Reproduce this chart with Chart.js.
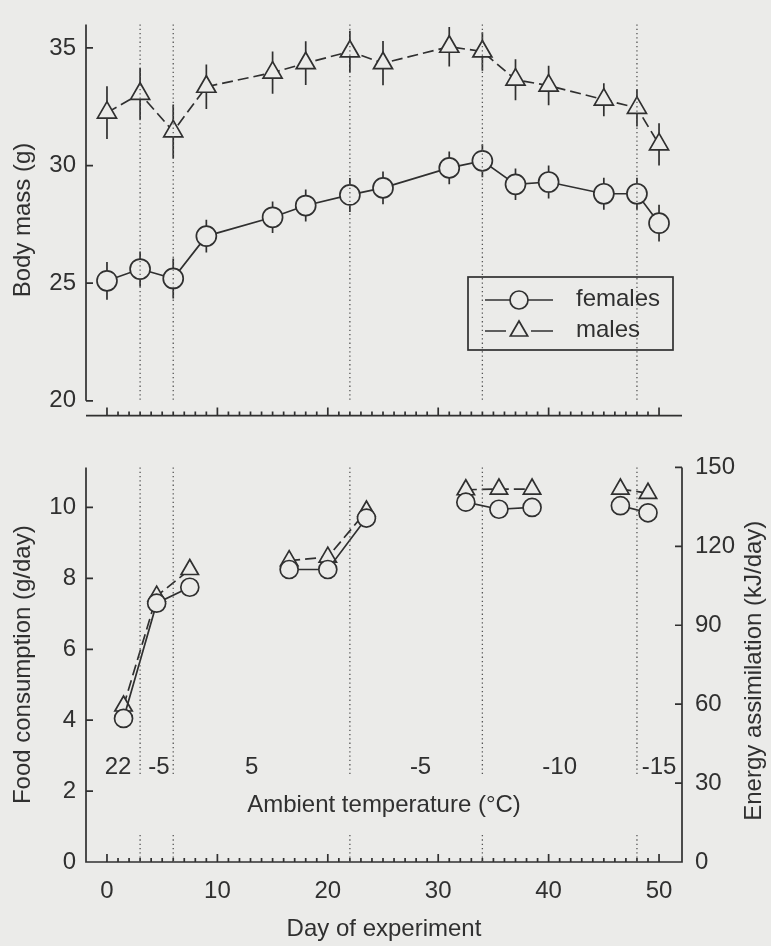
<!DOCTYPE html>
<html>
<head>
<meta charset="utf-8">
<title>Body mass and food consumption</title>
<script src="https://cdn.jsdelivr.net/npm/chart.js@4.4.1/dist/chart.umd.min.js"></script>
<style>
  body { margin: 0; background: #ebebe9; }
  canvas { position: absolute; left: 0; }
  #massChart { top: 0; }
  #foodChart { top: 440px; }
</style>
</head>
<body>
<canvas id="massChart" width="771" height="440"></canvas>
<canvas id="foodChart" width="771" height="506"></canvas>
<script>
// body mass
const massDays = [0, 3, 6, 9, 15, 18, 22, 25, 31, 34, 37, 40, 45, 48, 50];
const femaleMass = [25.1, 25.6, 25.2, 27.0, 27.8, 28.3, 28.75, 29.05, 29.9, 30.2, 29.2, 29.3, 28.8, 28.8, 27.55];
const femaleMassErr = [0.8, 0.75, 0.85, 0.7, 0.67, 0.68, 0.72, 0.7, 0.7, 0.7, 0.67, 0.7, 0.68, 0.68, 0.78];
const maleMass = [32.25, 33.05, 31.45, 33.35, 33.95, 34.35, 34.85, 34.35, 35.05, 34.85, 33.65, 33.4, 32.8, 32.45, 30.9];
const maleMassErr = [1.12, 1.1, 1.14, 0.95, 0.9, 0.93, 0.88, 0.94, 0.84, 0.82, 0.87, 0.84, 0.7, 0.79, 0.9];

// food consumption, lower panel (points only joined inside a group)
const foodDays = [1.5, 4.5, 7.5, 16.5, 20, 23.5, 32.5, 35.5, 38.5, 46.5, 49];
const foodGroup = [1, 1, 1, 2, 2, 2, 3, 3, 3, 4, 4];
const femaleFood = [4.05, 7.3, 7.75, 8.25, 8.25, 9.7, 10.15, 9.95, 10.0, 10.05, 9.85];
const maleFood = [4.4, 7.5, 8.25, 8.5, 8.6, 9.9, 10.5, 10.52, 10.52, 10.52, 10.4];

// temperature periods
const periodBounds = [3, 6, 22, 34, 48];
const tempLabels = ['22', '-5', '5', '-5', '-10', '-15'];
const tempLabelDays = [1.0, 4.7, 13.1, 28.4, 41.0, 50.0];

// axis ticks
const massTicks = [20, 25, 30, 35];
const foodTicks = [0, 2, 4, 6, 8, 10];
const energyTicks = [0, 30, 60, 90, 120, 150];
const dayTicks = [0, 10, 20, 30, 40, 50];

const ink = '#303030';
const paper = '#ebebe9';
Chart.defaults.font.family = '"Liberation Sans", Arial, sans-serif';
Chart.defaults.font.size = 24;
Chart.defaults.color = ink;

const dayMin = -1.9, dayMax = 52.08;

function series(days, vals) {
  return days.map((d, i) => ({ x: d, y: vals[i] }));
}

function setTicks(values) {
  return scale => { scale.ticks = values.map(v => ({ value: v })); };
}

function drawDayTicks(ctx, x, base) {
  for (let d = 0; d <= 50; d++) {
    const px = x.getPixelForValue(d);
    ctx.moveTo(px, base);
    ctx.lineTo(px, base - (d % 10 === 0 ? 8 : 4));
  }
}

function drawYTicks(ctx, scale, values, x0, dir) {
  values.forEach(v => {
    const py = scale.getPixelForValue(v);
    ctx.moveTo(x0, py);
    ctx.lineTo(x0 + dir * 7, py);
  });
}

function drawErrors(chart) {
  const { ctx, scales: { x, y } } = chart;
  chart.data.datasets.forEach(ds => {
    if (!ds.errors) return;
    ds.data.forEach((p, i) => {
      const px = x.getPixelForValue(p.x);
      ctx.moveTo(px, y.getPixelForValue(p.y - ds.errors[i]));
      ctx.lineTo(px, y.getPixelForValue(p.y + ds.errors[i]));
    });
  });
}

function drawPeriods(chart, spans) {
  const { ctx, scales: { x, y } } = chart;
  ctx.save();
  ctx.strokeStyle = '#555555';
  ctx.lineWidth = 1.3;
  ctx.setLineDash([1.3, 3]);
  ctx.beginPath();
  periodBounds.forEach(d => {
    const px = x.getPixelForValue(d);
    spans.forEach(([a, b]) => {
      ctx.moveTo(px, y.getPixelForValue(a));
      ctx.lineTo(px, y.getPixelForValue(b));
    });
  });
  ctx.stroke();
  ctx.restore();
}

function marker(ctx, style, r, cx, cy) {
  ctx.beginPath();
  if (style === 'triangle') {
    for (let k = 0; k < 3; k++) {
      const a = k * 2 * Math.PI / 3;
      const px = cx + Math.sin(a) * r, py = cy - Math.cos(a) * r;
      k ? ctx.lineTo(px, py) : ctx.moveTo(px, py);
    }
    ctx.closePath();
  } else {
    ctx.arc(cx, cy, r, 0, 2 * Math.PI);
  }
  ctx.fill();
  ctx.stroke();
}

function drawLegend(chart) {
  const { ctx } = chart;
  const left = 468, top = 277, w = 205, h = 73;
  ctx.save();
  ctx.strokeStyle = ink;
  ctx.fillStyle = paper;
  ctx.lineWidth = 1.7;
  ctx.strokeRect(left, top, w, h);
  chart.data.datasets.forEach((ds, i) => {
    const cy = top + 23 + i * 31;
    ctx.beginPath();
    if (ds.borderDash) {
      ctx.moveTo(left + 17, cy); ctx.lineTo(left + 38, cy);
      ctx.moveTo(left + 63, cy); ctx.lineTo(left + 85, cy);
    } else {
      ctx.moveTo(left + 17, cy); ctx.lineTo(left + 85, cy);
    }
    ctx.stroke();
    marker(ctx, ds.pointStyle, ds.pointStyle === 'triangle' ? 10 : 9, left + 51, cy);
    ctx.fillStyle = ink;
    ctx.textAlign = 'left';
    ctx.textBaseline = 'middle';
    ctx.fillText(ds.label, left + 108, cy - 1);
    ctx.fillStyle = paper;
  });
  ctx.restore();
}

const massFrame = {
  id: 'massFrame',
  beforeDatasetsDraw(chart) {
    const { ctx, chartArea: a, scales: { x, y } } = chart;
    ctx.save();
    ctx.strokeStyle = ink;
    ctx.lineWidth = 1.7;
    ctx.beginPath();
    ctx.moveTo(a.left, a.top);
    ctx.lineTo(a.left, y.getPixelForValue(20));
    drawYTicks(ctx, y, massTicks, a.left, 1);
    ctx.moveTo(a.left, a.bottom);
    ctx.lineTo(a.right, a.bottom);
    drawDayTicks(ctx, x, a.bottom);
    drawErrors(chart);
    ctx.stroke();
    ctx.restore();
  },
  afterDatasetsDraw(chart) {
    drawPeriods(chart, [[36, 20]]);
    drawLegend(chart);
  }
};

const foodFrame = {
  id: 'foodFrame',
  beforeDatasetsDraw(chart) {
    const { ctx, chartArea: a, scales: { x, y, energy } } = chart;
    ctx.save();
    ctx.strokeStyle = ink;
    ctx.lineWidth = 1.7;
    ctx.beginPath();
    ctx.moveTo(a.left, a.top);
    ctx.lineTo(a.left, a.bottom);
    ctx.lineTo(a.right, a.bottom);
    ctx.lineTo(a.right, a.top);
    drawYTicks(ctx, y, foodTicks, a.left, 1);
    drawYTicks(ctx, energy, energyTicks, a.right, -1);
    drawDayTicks(ctx, x, a.bottom);
    ctx.stroke();
    ctx.restore();
  },
  afterDatasetsDraw(chart) {
    const { ctx, chartArea: a, scales: { x, y } } = chart;
    drawPeriods(chart, [[11.13, 2.45], [0.76, 0]]);
    ctx.save();
    ctx.fillStyle = ink;
    ctx.textAlign = 'center';
    ctx.textBaseline = 'middle';
    tempLabels.forEach((t, i) => {
      ctx.fillText(t, x.getPixelForValue(tempLabelDays[i]), y.getPixelForValue(2.68));
    });
    ctx.fillText('Ambient temperature (°C)', (a.left + a.right) / 2, y.getPixelForValue(1.6));
    ctx.translate(754, (a.top + a.bottom) / 2 + 6);
    ctx.rotate(-Math.PI / 2);
    ctx.fillText('Energy assimilation (kJ/day)', 0, 0);
    ctx.restore();
  }
};

const lineStyle = {
  borderColor: ink,
  borderWidth: 1.7,
  pointBackgroundColor: paper,
  pointBorderColor: ink,
  pointBorderWidth: 1.7,
  fill: false,
  tension: 0
};

const noGrid = { display: false, drawTicks: false };

new Chart(document.getElementById('massChart'), {
  type: 'line',
  data: {
    datasets: [
      Object.assign({}, lineStyle, {
        label: 'females',
        data: series(massDays, femaleMass),
        errors: femaleMassErr,
        pointStyle: 'circle',
        pointRadius: 10
      }),
      Object.assign({}, lineStyle, {
        label: 'males',
        data: series(massDays, maleMass),
        errors: maleMassErr,
        borderDash: [11, 5],
        pointStyle: 'triangle',
        pointRadius: 11
      })
    ]
  },
  options: {
    responsive: false,
    animation: false,
    events: [],
    layout: { padding: { left: 0, right: 89, top: 10, bottom: 16 } },
    plugins: { legend: { display: false }, tooltip: { enabled: false } },
    scales: {
      x: { type: 'linear', display: false, min: dayMin, max: dayMax },
      y: {
        min: 19.37,
        max: 36,
        grid: noGrid,
        border: { display: false },
        afterBuildTicks: setTicks(massTicks),
        afterFit: s => { s.width = 86; },
        ticks: { padding: 10 },
        title: { display: true, text: 'Body mass (g)', padding: { top: 9, bottom: 0 } }
      }
    }
  },
  plugins: [massFrame]
});

new Chart(document.getElementById('foodChart'), {
  type: 'line',
  data: {
    datasets: [
      Object.assign({}, lineStyle, {
        label: 'females',
        data: series(foodDays, femaleFood),
        pointStyle: 'circle',
        pointRadius: 9,
        segment: { borderColor: c => foodGroup[c.p0DataIndex] !== foodGroup[c.p1DataIndex] ? 'rgba(0,0,0,0)' : undefined }
      }),
      Object.assign({}, lineStyle, {
        label: 'males',
        data: series(foodDays, maleFood),
        borderDash: [11, 5],
        pointStyle: 'triangle',
        pointRadius: 10,
        segment: { borderColor: c => foodGroup[c.p0DataIndex] !== foodGroup[c.p1DataIndex] ? 'rgba(0,0,0,0)' : undefined }
      })
    ]
  },
  options: {
    responsive: false,
    animation: false,
    events: [],
    layout: { padding: { left: 0, right: 0, top: 27, bottom: 2 } },
    plugins: { legend: { display: false }, tooltip: { enabled: false } },
    scales: {
      x: {
        type: 'linear',
        min: dayMin,
        max: dayMax,
        grid: noGrid,
        border: { display: false },
        afterBuildTicks: setTicks(dayTicks),
        afterFit: s => { s.height = 82; },
        ticks: { padding: 15 },
        title: { display: true, text: 'Day of experiment', padding: { top: 0, bottom: 0 } }
      },
      y: {
        min: 0,
        max: 11.13,
        grid: noGrid,
        border: { display: false },
        afterBuildTicks: setTicks(foodTicks),
        afterFit: s => { s.width = 86; },
        ticks: { padding: 10 },
        title: { display: true, text: 'Food consumption (g/day)', padding: { top: 9, bottom: 0 } }
      },
      energy: {
        position: 'right',
        min: 0,
        max: 150,
        grid: noGrid,
        border: { display: false },
        afterBuildTicks: setTicks(energyTicks),
        afterFit: s => { s.width = 89; },
        ticks: { padding: 13 }
      }
    }
  },
  plugins: [foodFrame]
});
</script>
</body>
</html>
